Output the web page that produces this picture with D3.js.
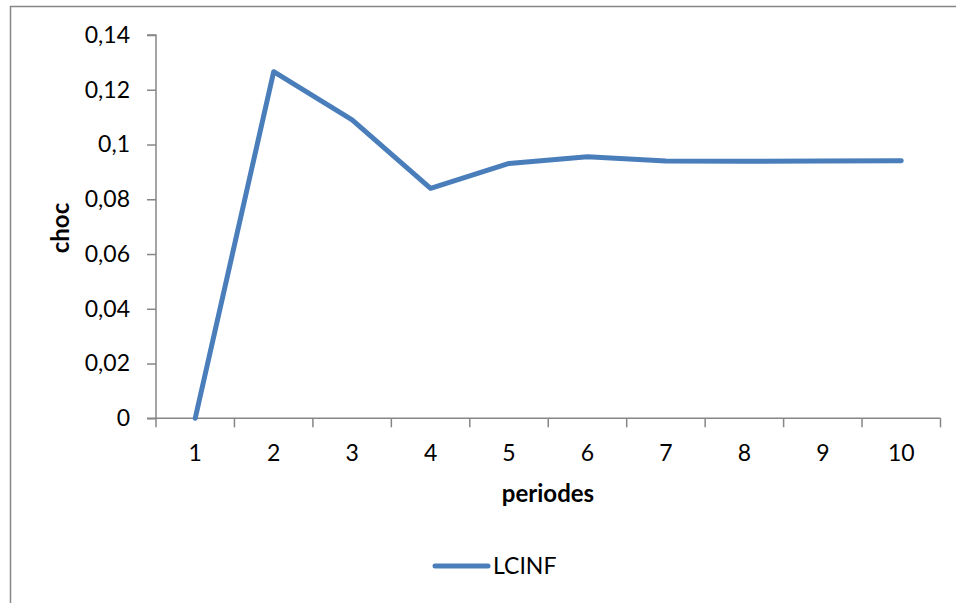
<!DOCTYPE html>
<html>
<head>
<meta charset="utf-8">
<script src="https://cdn.jsdelivr.net/npm/d3@7"></script>
<style>
  html, body { margin: 0; padding: 0; background: #fff; }
  svg { display: block; }
</style>
</head>
<body>
<svg id="chart" width="956" height="603"></svg>
<script>
(function() {
  const periods = ["1", "2", "3", "4", "5", "6", "7", "8", "9", "10"];
  const lcinf = [0, 0.1266, 0.1090, 0.0840, 0.0931, 0.0955, 0.0940, 0.0939, 0.0940, 0.0941];
  const yTicks = [0, 0.02, 0.04, 0.06, 0.08, 0.1, 0.12, 0.14];

  const LINE = "#4a7ebb";
  const AXIS = "#868686";
  const FONT = "Lato, 'Open Sans', sans-serif";
  const TICK_SIZE = 23;
  const TITLE_SIZE = 24;

  const svg = d3.select("#chart");

  // outer chart frame (runs past the right and bottom edges)
  svg.append("path")
    .attr("d", "M10.5,620 L10.5,6.5 L970,6.5")
    .attr("fill", "none")
    .attr("stroke", AXIS)
    .attr("stroke-width", 1.5);

  const left = 156, right = 940.5, top = 35, bottom = 418.3;

  const x = d3.scaleBand().domain(periods).range([left, right]);
  const y = d3.scaleLinear().domain([0, 0.14]).range([bottom, top]);

  const fmt = d => d3.format("")(d).replace(".", ",");

  // y axis
  const yAxis = svg.append("g")
    .attr("transform", `translate(${left},0)`)
    .call(d3.axisLeft(y).tickValues(yTicks).tickSize(9).tickPadding(17).tickFormat(fmt));
  yAxis.select(".domain").attr("stroke", AXIS).attr("stroke-width", 1.5).attr("d", `M-9,${top}H0V${bottom}H-9`);
  yAxis.selectAll(".tick line").attr("stroke", AXIS).attr("stroke-width", 1.5);
  yAxis.selectAll("text").attr("font-family", FONT).attr("font-size", TICK_SIZE).attr("fill", "#000");

  // x axis, ticks between categories
  const xAxis = svg.append("g")
    .attr("transform", `translate(0,${bottom})`);
  xAxis.append("line")
    .attr("x1", left).attr("x2", right)
    .attr("stroke", AXIS).attr("stroke-width", 1.5);
  const edges = periods.map(p => x(p)).concat([right]);
  xAxis.selectAll(".xtick")
    .data(edges)
    .join("line")
    .attr("x1", d => d).attr("x2", d => d)
    .attr("y1", 0).attr("y2", 9)
    .attr("stroke", AXIS).attr("stroke-width", 1.5);
  xAxis.selectAll(".xlabel")
    .data(periods)
    .join("text")
    .attr("x", d => x(d) + x.bandwidth() / 2)
    .attr("y", 35)
    .attr("dy", "0.35em")
    .attr("text-anchor", "middle")
    .attr("font-family", FONT)
    .attr("font-size", TICK_SIZE)
    .attr("fill", "#000")
    .text(d => d);

  // axis titles
  svg.append("text")
    .attr("transform", `translate(61,228) rotate(-90)`)
    .attr("text-anchor", "middle")
    .attr("dy", "0.35em")
    .attr("font-family", FONT)
    .attr("font-weight", "bold")
    .attr("font-size", TITLE_SIZE)
    .attr("fill", "#000")
    .text("choc");

  svg.append("text")
    .attr("x", 548)
    .attr("y", 494)
    .attr("dy", "0.35em")
    .attr("text-anchor", "middle")
    .attr("font-family", FONT)
    .attr("font-weight", "bold")
    .attr("font-size", TITLE_SIZE)
    .attr("fill", "#000")
    .text("periodes");

  // series line
  const line = d3.line()
    .x((d, i) => x(periods[i]) + x.bandwidth() / 2)
    .y(d => y(d));
  svg.append("path")
    .datum(lcinf)
    .attr("d", line)
    .attr("fill", "none")
    .attr("stroke", LINE)
    .attr("stroke-width", 5)
    .attr("stroke-linejoin", "round")
    .attr("stroke-linecap", "round");

  // legend
  const lg = svg.append("g").attr("transform", "translate(435,566)");
  lg.append("line")
    .attr("x1", 0).attr("x2", 53)
    .attr("stroke", LINE).attr("stroke-width", 5)
    .attr("stroke-linecap", "round");
  lg.append("text")
    .attr("x", 58)
    .attr("dy", "0.35em")
    .attr("font-family", FONT)
    .attr("font-size", TICK_SIZE)
    .attr("fill", "#000")
    .text("LCINF");
})();
</script>
</body>
</html>
